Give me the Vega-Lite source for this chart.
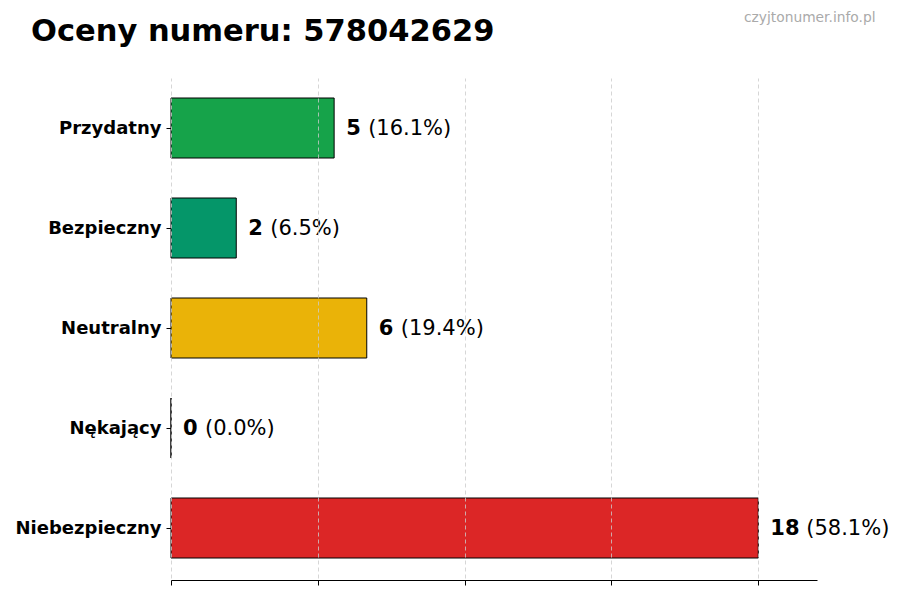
{
  "$schema": "https://vega.github.io/schema/vega-lite/v6.json",
  "autosize": {"type": "none"},
  "width": 646,
  "height": 500,
  "padding": {"left": 171, "top": 78, "right": 83, "bottom": 22},
  "background": "white",
  "title": {
    "text": "Oceny numeru: 578042629",
    "anchor": "start",
    "frame": "group",
    "dx": -140,
    "offset": 0,
    "dy": 61,
    "baseline": "alphabetic",
    "font": "DejaVu Sans",
    "fontSize": 30.5,
    "fontWeight": "bold",
    "color": "black"
  },
  "data": {
    "values": [
      {"ocena": "Przydatny", "liczba": 5, "procent": 16.1},
      {"ocena": "Bezpieczny", "liczba": 2, "procent": 6.5},
      {"ocena": "Neutralny", "liczba": 6, "procent": 19.4},
      {"ocena": "Nękający", "liczba": 0, "procent": 0.0},
      {"ocena": "Niebezpieczny", "liczba": 18, "procent": 58.1}
    ]
  },
  "transform": [
    {"calculate": "'(' + format(datum.procent, '.1f') + '%)'", "as": "pct_label"}
  ],
  "encoding": {
    "y": {
      "field": "ocena",
      "type": "nominal",
      "sort": null,
      "scale": {"paddingInner": 0.4, "paddingOuter": 0.2},
      "axis": {
        "title": null,
        "domain": false,
        "tickSize": 5,
        "tickColor": "black",
        "labelFont": "DejaVu Sans",
        "labelFontSize": 18,
        "labelFontWeight": "bold",
        "labelColor": "black",
        "labelPadding": 5,
        "labelOffset": 1
      }
    },
    "x": {
      "field": "liczba",
      "type": "quantitative",
      "scale": {"domain": [0, 19.8], "nice": false},
      "axis": {
        "title": "czyjtonumer.info.pl",
        "titleFont": "DejaVu Sans",
        "titleFontSize": 13.8,
        "titleFontWeight": "normal",
        "titleColor": "#aaaaaa",
        "titleAnchor": null,
        "titleAlign": "right",
        "titleBaseline": "alphabetic",
        "titleX": 704,
        "titleY": -559,
        "values": [0, 4.5, 9, 13.5, 18],
        "labels": false,
        "offset": 2,
        "domainColor": "black",
        "tickColor": "black",
        "tickSize": 5,
        "grid": true,
        "gridColor": "#cccccc",
        "gridDash": [4, 3],
        "gridWidth": 0.8,
        "zindex": 1
      }
    }
  },
  "layer": [
    {
      "mark": {"type": "bar", "stroke": "black", "strokeWidth": 1},
      "encoding": {
        "color": {
          "field": "ocena",
          "type": "nominal",
          "legend": null,
          "scale": {
            "domain": ["Przydatny", "Bezpieczny", "Neutralny", "Nękający", "Niebezpieczny"],
            "range": ["#16a34a", "#059669", "#eab308", "#ea580c", "#dc2626"]
          }
        }
      }
    },
    {
      "mark": {"type": "text", "align": "left", "baseline": "middle", "dx": 12, "dy": 1, "font": "DejaVu Sans", "fontSize": 21, "fontWeight": "bold", "color": "black"},
      "encoding": {"text": {"field": "liczba", "type": "quantitative"}}
    },
    {
      "transform": [{"filter": "datum.liczba < 10"}],
      "mark": {"type": "text", "align": "left", "baseline": "middle", "dx": 34, "dy": 1, "font": "DejaVu Sans", "fontSize": 21, "color": "black"},
      "encoding": {"text": {"field": "pct_label", "type": "nominal"}}
    },
    {
      "transform": [{"filter": "datum.liczba >= 10"}],
      "mark": {"type": "text", "align": "left", "baseline": "middle", "dx": 48, "dy": 1, "font": "DejaVu Sans", "fontSize": 21, "color": "black"},
      "encoding": {"text": {"field": "pct_label", "type": "nominal"}}
    }
  ],
  "config": {"view": {"stroke": null}}
}
